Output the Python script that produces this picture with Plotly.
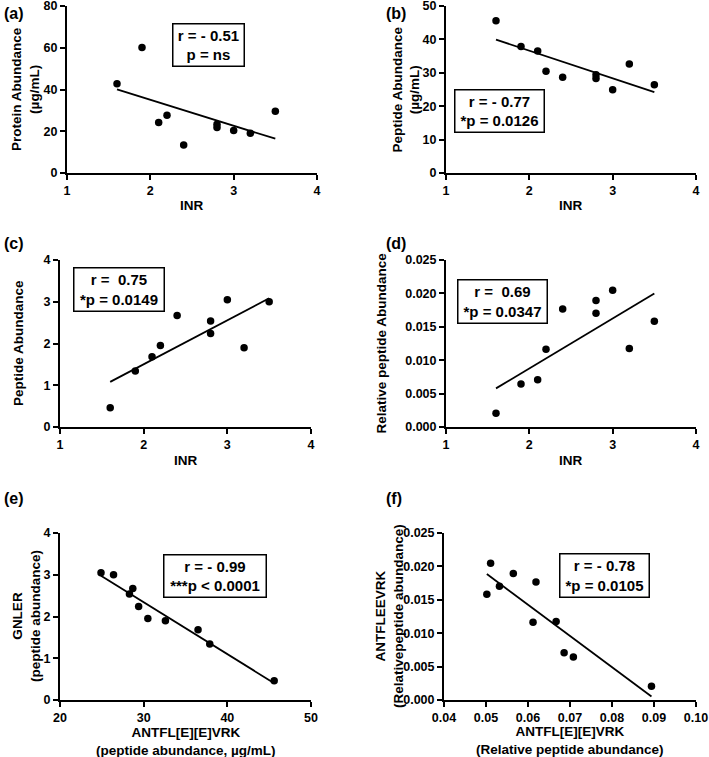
import numpy as np
import plotly.graph_objects as go

# ---------------- data ----------------
inr = [1.6, 1.9, 2.1, 2.2, 2.4, 2.8, 2.8, 3.0, 3.2, 3.5]
protein_ugml = [42.7, 60.1, 24.2, 27.7, 13.4, 23.3, 21.8, 20.4, 19.0, 29.6]
peptide_ugml = [45.6, 37.9, 36.5, 30.5, 28.7, 29.4, 28.3, 24.9, 32.6, 26.4]
peptide_abund = [0.46, 1.34, 1.68, 1.95, 2.67, 2.24, 2.54, 3.05, 1.90, 3.00]
rel_peptide = [0.00204, 0.00642, 0.00707, 0.01165, 0.01768, 0.01892, 0.01703, 0.02047, 0.01175, 0.01584]
rel_antfl_ee = [0.0894, 0.0708, 0.0686, 0.0612, 0.0619, 0.0565, 0.0532, 0.0511, 0.0667, 0.0502]

inr_ticks = [1, 2, 3, 4]
protein_ticks = [0, 20, 40, 60, 80]
peptide_ugml_ticks = [0, 10, 20, 30, 40, 50]
abund_ticks = [0, 1, 2, 3, 4]
rel_ticks = [0, 0.005, 0.010, 0.015, 0.020, 0.025]
ugml_x_ticks = [20, 30, 40, 50]
rel_x_ticks = [0.04, 0.05, 0.06, 0.07, 0.08, 0.09, 0.10]

stats = {
    "a": "r = - 0.51<br>p = ns",
    "b": "r = - 0.77<br>*p = 0.0126",
    "c": "r = \u00a00.75<br>*p = 0.0149",
    "d": "r = \u00a00.69<br>*p = 0.0347",
    "e": "r = - 0.99<br>***p < 0.0001",
    "f": "r = - 0.78<br>*p = 0.0105",
}

W, H = 709, 757
FONT = "Liberation Sans, Arial, Helvetica, sans-serif"


def px(x):
    return x / W


def py(y):
    return 1 - y / H


panels = [
    dict(key="a", x=inr, y=protein_ugml, xd=(67, 317), yd=(6, 173),
         xr=[1, 4], xt=inr_ticks, yr=[0, 80], yt=protein_ticks, xf="", yf="",
         xtitle="INR", xtpos=(192, 206),
         ytitle="Protein Abundance<br>(µg/mL)", ytpos=(25.5, 89.5),
         box=(208.5, 45, 73, 44), label=(2, 13)),
    dict(key="b", x=inr, y=peptide_ugml, xd=(446, 696), yd=(6, 173),
         xr=[1, 4], xt=inr_ticks, yr=[0, 50], yt=peptide_ugml_ticks, xf="", yf="",
         xtitle="INR", xtpos=(571, 206),
         ytitle="Peptide Abundance<br>(µg/mL)", ytpos=(406, 89.5),
         box=(499, 111, 91, 44), label=(384, 13)),
    dict(key="c", x=inr, y=peptide_abund, xd=(60, 311), yd=(260, 427),
         xr=[1, 4], xt=inr_ticks, yr=[0, 4], yt=abund_ticks, xf="", yf="",
         xtitle="INR", xtpos=(185.5, 460),
         ytitle="Peptide Abundance", ytpos=(18.5, 343.5),
         box=(119, 289.5, 92, 45), label=(2, 244)),
    dict(key="d", x=inr, y=rel_peptide, xd=(446, 696), yd=(260, 427),
         xr=[1, 4], xt=inr_ticks, yr=[0, 0.025], yt=rel_ticks, xf="", yf=".3f",
         xtitle="INR", xtpos=(571, 460),
         ytitle="Relative peptide Abundance", ytpos=(381, 343.5),
         box=(502, 301.5, 91, 45), label=(384, 244)),
    dict(key="e", x=peptide_ugml, y=peptide_abund, xd=(60, 311), yd=(533, 700),
         xr=[20, 50], xt=ugml_x_ticks, yr=[0, 4], yt=abund_ticks, xf="", yf="",
         xtitle="ANTFL[E][E]VRK<br>(peptide abundance, µg/mL)", xtpos=(185.5, 741),
         ytitle="GNLER<br>(peptide abundance)", ytpos=(26.5, 616.5),
         box=(215, 576, 104, 44), label=(2, 498)),
    dict(key="f", x=rel_antfl_ee, y=rel_peptide, xd=(444, 696), yd=(533, 700),
         xr=[0.04, 0.10], xt=rel_x_ticks, yr=[0, 0.025], yt=rel_ticks, xf=".2f", yf=".3f",
         xtitle="ANTFL[E][E]VRK<br>(Relative peptide abundance)", xtpos=(570, 740.5),
         ytitle="ANTFLEEVRK<br>(Relativepeptide abundance)", ytpos=(389.5, 616.5),
         box=(604, 575.5, 91, 45), label=(384, 498)),
]

fig = go.Figure()
annotations = []
title_font = dict(family=FONT, size=13.5, color="black", weight="bold")

for i, p in enumerate(panels, start=1):
    xa = "x" if i == 1 else f"x{i}"
    ya = "y" if i == 1 else f"y{i}"
    # scatter points
    fig.add_trace(go.Scatter(
        x=p["x"], y=p["y"], mode="markers", xaxis=xa, yaxis=ya,
        marker=dict(color="black", size=7.5, line=dict(width=0)),
        showlegend=False, hoverinfo="x+y"))
    # linear regression line over the data range
    slope, icpt = np.polyfit(p["x"], p["y"], 1)
    xs = np.array([min(p["x"]), max(p["x"])])
    fig.add_trace(go.Scatter(
        x=xs, y=slope * xs + icpt, mode="lines", xaxis=xa, yaxis=ya,
        line=dict(color="black", width=1.8), showlegend=False, hoverinfo="skip"))

    axis_common = dict(
        showgrid=False, zeroline=False, showline=True, linecolor="black", linewidth=2,
        ticks="outside", ticklen=5, tickwidth=2, tickcolor="black",
        tickfont=dict(family=FONT, size=12.5, color="black", weight="bold"),
        ticklabeloverflow="allow",
        fixedrange=True, automargin=False,
    )
    xkey = "xaxis" if i == 1 else f"xaxis{i}"
    ykey = "yaxis" if i == 1 else f"yaxis{i}"
    fig.update_layout(**{
        xkey: dict(axis_common, domain=[px(p["xd"][0]), px(p["xd"][1])], anchor=ya,
                   range=p["xr"], tickvals=p["xt"], tickformat=p["xf"]),
        ykey: dict(axis_common, domain=[py(p["yd"][1]), py(p["yd"][0])], anchor=xa,
                   range=p["yr"], tickvals=p["yt"], tickformat=p["yf"]),
    })

    # axis titles
    annotations.append(dict(
        text=p["xtitle"], xref="paper", yref="paper",
        x=px(p["xtpos"][0]), y=py(p["xtpos"][1]), xanchor="center", yanchor="middle",
        showarrow=False, align="center", font=title_font))
    annotations.append(dict(
        text=p["ytitle"], xref="paper", yref="paper", textangle=-90,
        x=px(p["ytpos"][0]), y=py(p["ytpos"][1]), xanchor="center", yanchor="middle",
        showarrow=False, align="center", font=title_font))

    # statistics box
    bx, by, bw, bh = p["box"]
    annotations.append(dict(
        text=stats[p["key"]], xref="paper", yref="paper",
        x=px(bx), y=py(by), xanchor="center", yanchor="middle",
        width=bw - 5, height=bh - 5,
        showarrow=False, align="center", valign="middle", bgcolor="white",
        bordercolor="black", borderwidth=1.5, borderpad=1,
        font=dict(family=FONT, size=15, color="black", weight="bold")))
    # panel label
    annotations.append(dict(
        text=f"({p['key']})", xref="paper", yref="paper",
        x=px(p["label"][0]), y=py(p["label"][1]), xanchor="left", yanchor="middle",
        showarrow=False,
        font=dict(family=FONT, size=16, color="black", weight="bold")))

fig.update_layout(
    width=W, height=H, margin=dict(l=0, r=0, t=0, b=0),
    paper_bgcolor="white", plot_bgcolor="white",
    annotations=annotations, showlegend=False,
)

fig.write_html(
    "out.html",
    config={"displayModeBar": False},
    post_script="document.body.style.margin='0';document.body.style.overflow='hidden';",
)
